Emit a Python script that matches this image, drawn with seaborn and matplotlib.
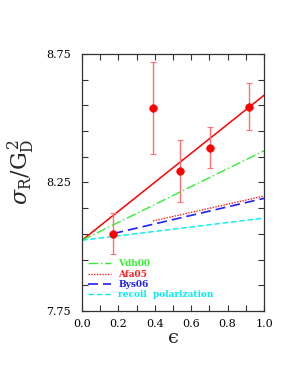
import numpy as np
import pandas as pd
import matplotlib
matplotlib.use('Agg')
import matplotlib.pyplot as plt
import seaborn as sns

# data
eps_pts = [0.172, 0.390, 0.538, 0.703, 0.918]
sigma_pts = [8.050, 8.540, 8.294, 8.385, 8.545]
sigma_err = [0.080, 0.180, 0.120, 0.080, 0.090]

fit_eps = [0.0, 1.0]
fit_sigma = [8.025, 8.589]

vdh_eps = [0.0, 1.0]
vdh_sigma = [8.025, 8.373]

afa_eps = [0.39, 1.0]
afa_sigma = [8.100, 8.197]

bys_eps = [0.172, 1.0]
bys_sigma = [8.051, 8.188]

rp_eps = [0.0, 1.0]
rp_sigma = [8.025, 8.111]

sns.set_style("ticks")
plt.rcParams['font.family'] = ['DejaVu Serif']
plt.rcParams['mathtext.fontset'] = 'dejavuserif'

fig = plt.figure(figsize=(2.95, 3.82), dpi=100)
ax = fig.add_axes([0.278, 0.186, 0.617, 0.673])

# fit and model curves
sns.lineplot(x=fit_eps, y=fit_sigma, ax=ax, color='#ff0000', lw=1.1)
sns.lineplot(x=vdh_eps, y=vdh_sigma, ax=ax, color='#33ee33', lw=1.0, label='Vdh00')
ax.lines[-1].set_dashes([7, 2, 1, 2])
sns.lineplot(x=afa_eps, y=afa_sigma, ax=ax, color='#ff2020', lw=1.0, label='Afa05')
ax.lines[-1].set_linestyle((0, (1, 1)))
sns.lineplot(x=bys_eps, y=bys_sigma, ax=ax, color='#2020ff', lw=1.2, label='Bys06')
ax.lines[-1].set_dashes([6, 3])
sns.lineplot(x=rp_eps, y=rp_sigma, ax=ax, color='#00eeee', lw=1.0, label='recoil  polarization')
ax.lines[-1].set_dashes([4, 2])

# data points with error bars
ax.errorbar(eps_pts, sigma_pts, yerr=sigma_err, fmt='none', ecolor='#ff7070',
            elinewidth=1.0, capsize=2.5, capthick=0.8)
sns.scatterplot(x=eps_pts, y=sigma_pts, ax=ax, color='#ff0000', s=30,
                edgecolor='#ff0000', zorder=5)

ax.set_xlim(0, 1)
ax.set_ylim(7.75, 8.75)
ax.set_xticks(np.arange(0, 1.01, 0.2))
ax.set_xticks(np.arange(0, 1.01, 0.1), minor=True)
ax.set_yticks([7.75, 8.25, 8.75])
ax.set_yticks(np.arange(7.75, 8.751, 0.1), minor=True)
ax.set_xticklabels([f'{v:.1f}' for v in np.arange(0, 1.01, 0.2)])
ax.tick_params(which='both', direction='in', top=True, right=True, labelsize=8,
               width=0.8, colors='#333333', labelcolor='black')
ax.tick_params(which='both', length=4)
ax.tick_params(axis='y', pad=8)
ax.tick_params(axis='x', pad=6)
for s in ax.spines.values():
    s.set_linewidth(0.9)
    s.set_color('#333333')

ax.set_xlabel('\u03f5', fontsize=14, labelpad=0)
ax.set_ylabel(r'$\sigma_{\mathrm{R}}/\mathrm{G}_{\mathrm{D}}^{\,2}$', fontsize=16)
ax.yaxis.set_label_coords(-0.25, 0.54)

leg = ax.legend(loc='lower left', frameon=False, handlelength=2.5,
                handletextpad=0.8, labelspacing=0.15, borderaxespad=0.3,
                bbox_to_anchor=(0.0, 0.02),
                prop={'weight': 'bold', 'size': 6.5})
for txt, ln in zip(leg.get_texts(), leg.get_lines()):
    txt.set_color(ln.get_color())

fig.savefig('out.png', dpi=100)
